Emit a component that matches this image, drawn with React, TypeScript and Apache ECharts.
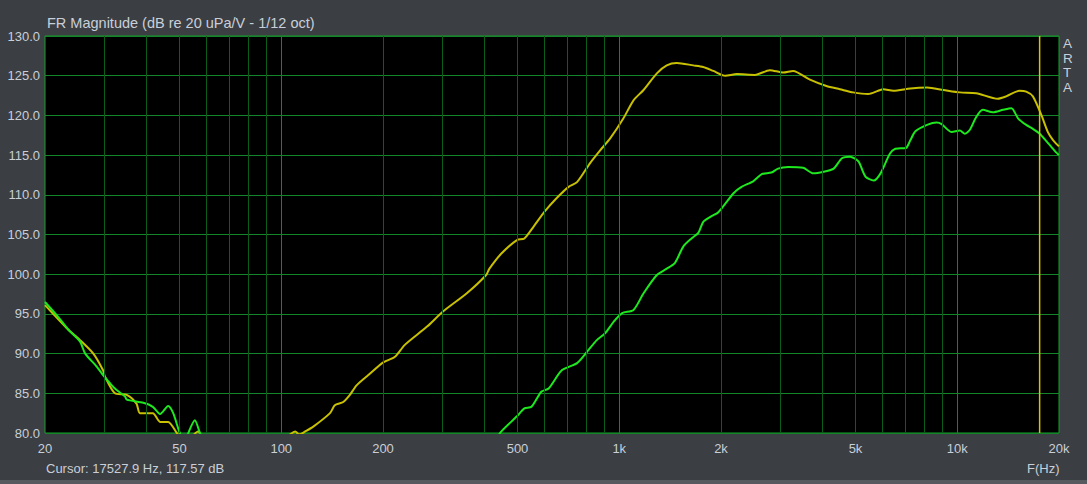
import React, { useEffect, useRef } from "react";
import * as echarts from "echarts";

// ---- data (frequency in Hz, level in dB) ----
const yellowFreq = [
  20, 23.2, 25.4, 27.8, 29.7, 30.1, 32.2, 34.9, 37.3, 38.2, 41.7, 43.8, 46.3, 49.1, 52, 56.7, 60, 75, 95, 106,
  110, 113, 117.8, 124.4, 139.4, 144, 152.6, 159.6, 167, 181, 200.4, 217, 232, 270, 301, 354, 404, 413, 448, 498,
  524, 558, 602, 650, 708, 750, 820, 878, 940, 1028, 1102, 1180, 1292, 1382, 1480, 1656, 1772, 1898, 2058, 2228,
  2520, 2790, 3054, 3268, 3666, 4100, 4494, 4920, 5450, 5836, 6040, 6470, 7270, 8140, 9100, 10180, 11380, 13180,
  13960, 15280, 16000, 16740, 17720, 18540, 19200, 20000,
];
const yellowDb = [
  96.1, 93.2, 91.7, 90.0, 87.9, 87.1, 85.0, 84.8, 83.7, 82.5, 82.5, 81.4, 81.4, 80.0, 78.8, 80.2, 78.6, 76.5, 78.2, 79.8,
  80.2, 79.8, 80.2, 80.8, 82.5, 83.5, 83.9, 84.8, 86.0, 87.3, 88.9, 89.6, 91.1, 93.4, 95.3, 97.6, 99.9, 100.7, 102.6, 104.3,
  104.5, 106.0, 107.9, 109.5, 111.0, 111.6, 114.0, 115.6, 117.1, 119.6, 121.9, 123.2, 125.3, 126.3, 126.6, 126.3, 126.1, 125.6, 125.0, 125.2,
  125.1, 125.7, 125.4, 125.6, 124.5, 123.7, 123.3, 122.9, 122.7, 123.1, 123.3, 123.1, 123.4, 123.5, 123.2, 122.9, 122.8, 122.1,
  122.4, 123.1, 123.0, 122.4, 120.1, 117.9, 116.9, 116.1,
];
const greenFreq = [
  20, 21.9, 23.7, 25.4, 26.3, 28.4, 29.7, 31.1, 32.2, 34.5, 34.9, 39.1, 41.7, 43.8, 46.3, 47.9, 50.1, 52, 53.1, 55.5,
  57.5, 62, 100, 200, 350, 420, 448, 498, 524, 550, 588, 618, 676, 750, 802, 858, 910, 962, 1020, 1102,
  1180, 1292, 1382, 1460, 1548, 1636, 1714, 1772, 1856, 1964, 2178, 2300, 2490, 2640, 2820, 2950, 3160, 3500, 3750, 4020,
  4310, 4560, 4820, 5100, 5350, 5660, 5930, 6324, 6560, 7050, 7270, 7520, 8140, 8700, 8990, 9630, 10180, 10530, 10900, 11380,
  11900, 12750, 13660, 14460, 15150, 16000, 16740, 17530, 18320, 19540, 20000,
];
const greenDb = [
  96.5, 94.6, 92.8, 91.5, 90.0, 88.4, 87.3, 86.3, 85.6, 84.6, 84.2, 83.8, 83.3, 82.4, 83.4, 82.5, 80.0, 78.8, 80.0, 81.6,
  80.0, 77.0, 72.0, 70.0, 74.0, 78.5, 80.2, 82.1, 83.1, 83.3, 85.2, 85.6, 87.9, 88.8, 90.2, 91.7, 92.6, 94.0, 95.1, 95.5,
  97.6, 99.9, 100.7, 101.4, 103.5, 104.5, 105.2, 106.6, 107.2, 107.8, 110.2, 111.0, 111.7, 112.6, 112.8, 113.3, 113.5, 113.4, 112.7, 112.9,
  113.3, 114.6, 114.8, 114.2, 112.3, 111.8, 112.7, 115.2, 115.8, 115.9, 116.9, 118.0, 118.8, 119.1, 118.9, 117.9, 118.1, 117.7, 118.2, 119.8,
  120.7, 120.4, 120.7, 120.9, 119.6, 118.8, 118.3, 117.7, 116.8, 115.4, 115.0,
];
const xTickLabels = [20, 50, 100, 200, 500, 1000, 2000, 5000, 10000, 20000];
const minorGrid = [30, 40, 50, 60, 70, 80, 90, 200, 300, 400, 500, 600, 700, 800, 900, 2000, 3000, 4000, 5000, 6000, 7000, 8000, 9000];
const decadeGrid = [100, 1000, 10000];
const cursorFreq = 17527.9;
const cursorDb = 117.57;
const yRange = [80, 130];

const TEXT = "#c9cfd9";
const FONT = "Liberation Sans";
const YELLOW = "#c8c000";
const GREEN = "#1ee81e";

export default function App() {
  const ref = useRef<HTMLDivElement>(null);
  useEffect(() => {
    const chart = echarts.init(ref.current!, null, { renderer: "svg" });
    const pairs = (f: number[], v: number[]) => f.map((x, i) => [x, v[i]]);
    chart.setOption({
      animation: false,
      backgroundColor: "#3b3e42",
      textStyle: { fontFamily: FONT },
      grid: {
        left: 45,
        right: 28,
        top: 36,
        bottom: 51,
        show: true,
        backgroundColor: "#000000",
        borderColor: "#17a12b",
        borderWidth: 1,
      },
      xAxis: {
        type: "log",
        logBase: 10,
        min: 20,
        max: 20000,
        axisLine: { show: false },
        axisTick: { show: false },
        splitLine: { show: false },
        minorSplitLine: { show: false },
        axisLabel: {
          customValues: xTickLabels,
          color: TEXT,
          fontSize: 13,
          fontFamily: FONT,
          margin: 9,
          formatter: (v: number) => (v >= 1000 ? v / 1000 + "k" : String(v)),
        },
      },
      yAxis: {
        type: "value",
        min: yRange[0],
        max: yRange[1],
        interval: 5,
        axisLine: { show: false },
        axisTick: { show: false },
        splitLine: { lineStyle: { color: "#13862a", width: 1 } },
        axisLabel: {
          color: TEXT,
          fontSize: 13,
          fontFamily: FONT,
          margin: 5,
          formatter: (v: number) => v.toFixed(1),
        },
      },
      series: [
        {
          type: "line",
          data: [],
          z: 1,
          silent: true,
          markLine: {
            silent: true,
            symbol: ["none", "none"],
            label: { show: false },
            animation: false,
            data: [
              ...minorGrid.map((v) => ({ xAxis: v, lineStyle: { color: "#0b5e19", width: 1, type: "solid" } })),
              ...decadeGrid.map((v) => ({ xAxis: v, lineStyle: { color: "#13862a", width: 1, type: "solid" } })),
            ],
          },
        },
        {
          type: "line",
          data: pairs(yellowFreq, yellowDb),
          z: 3,
          showSymbol: false,
          smooth: 0.25,
          clip: true,
          color: YELLOW,
          lineStyle: { color: YELLOW, width: 2 },
        },
        {
          type: "line",
          data: pairs(greenFreq, greenDb),
          z: 4,
          showSymbol: false,
          smooth: 0.25,
          clip: true,
          color: GREEN,
          lineStyle: { color: GREEN, width: 2 },
        },
        {
          type: "line",
          data: yRange.map((y) => [cursorFreq, y]),
          z: 5,
          silent: true,
          showSymbol: false,
          color: "#d2c600",
          lineStyle: { color: "#d2c600", width: 1.5 },
        },
      ],
      graphic: [
        {
          type: "text",
          left: 47,
          top: 15,
          style: { text: "FR Magnitude (dB re 20 uPa/V - 1/12 oct)", fill: TEXT, font: `14.5px "${FONT}"` },
        },
        {
          type: "text",
          left: 46,
          top: 462,
          style: {
            text: `Cursor: ${cursorFreq.toFixed(1)} Hz, ${cursorDb.toFixed(2)} dB`,
            fill: TEXT,
            font: `13px "${FONT}"`,
          },
        },
        {
          type: "text",
          left: 1027,
          top: 462,
          style: { text: "F(Hz)", fill: TEXT, font: `13px "${FONT}"` },
        },
        {
          type: "text",
          left: 1063,
          top: 36,
          style: { text: "A\nR\nT\nA", fill: TEXT, font: `13.5px "${FONT}"`, lineHeight: 14.7 },
        },
        {
          type: "rect",
          left: 0,
          top: 480,
          shape: { width: 1087, height: 4 },
          style: { fill: "#56595d" },
        },
      ],
    });
    return () => chart.dispose();
  }, []);
  return <div ref={ref} style={{ position: "absolute", left: 0, top: 0, width: 1087, height: 484 }} />;
}
